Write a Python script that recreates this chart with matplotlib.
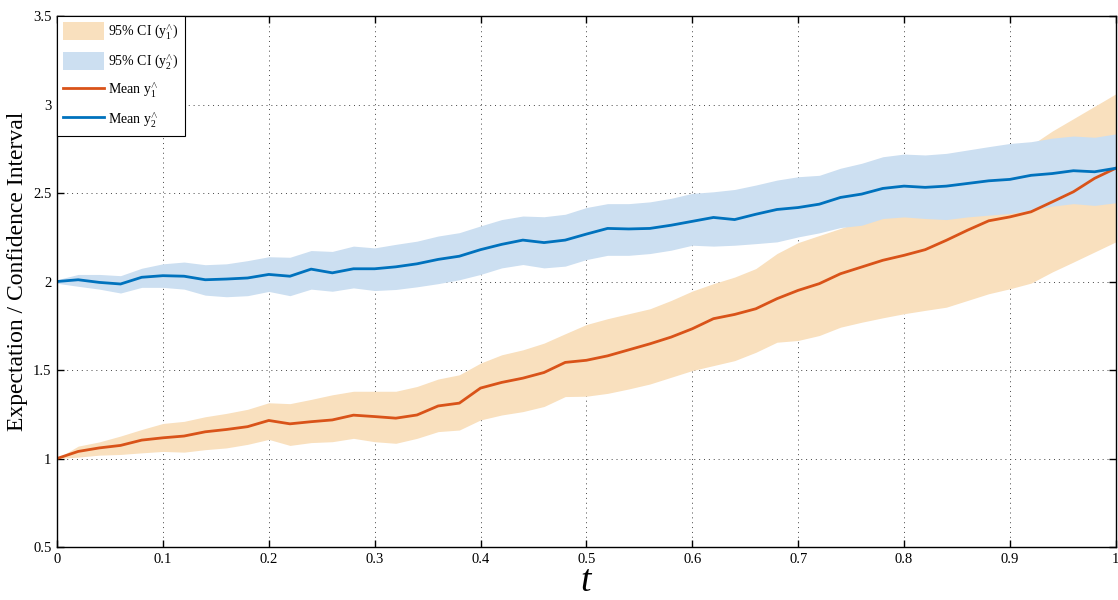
import matplotlib
matplotlib.use("Agg")
import matplotlib.pyplot as plt
from matplotlib.patches import Patch
from matplotlib.lines import Line2D

plt.rcParams['font.family'] = ['Liberation Serif', 'DejaVu Serif']
plt.rcParams['mathtext.fontset'] = 'custom'
plt.rcParams['mathtext.rm'] = 'Liberation Serif'
plt.rcParams['mathtext.it'] = 'Liberation Serif:italic'

# time grid
t = [0.00, 0.02, 0.04, 0.06, 0.08, 0.10, 0.12, 0.14, 0.16, 0.18,
     0.20, 0.22, 0.24, 0.26, 0.28, 0.30, 0.32, 0.34, 0.36, 0.38,
     0.40, 0.42, 0.44, 0.46, 0.48, 0.50, 0.52, 0.54, 0.56, 0.58,
     0.60, 0.62, 0.64, 0.66, 0.68, 0.70, 0.72, 0.74, 0.76, 0.78,
     0.80, 0.82, 0.84, 0.86, 0.88, 0.90, 0.92, 0.94, 0.96, 0.98, 1.00]

# y1 (orange)
mean_y1 = [1.0, 1.04, 1.06, 1.074, 1.104, 1.117, 1.127, 1.151, 1.164, 1.18,
           1.215, 1.196, 1.208, 1.218, 1.245, 1.237, 1.228, 1.246, 1.297, 1.313,
           1.398, 1.43, 1.454, 1.486, 1.543, 1.555, 1.58, 1.614, 1.648, 1.686,
           1.733, 1.79, 1.814, 1.846, 1.903, 1.95, 1.988, 2.044, 2.082, 2.12,
           2.148, 2.18, 2.233, 2.29, 2.343, 2.365, 2.394, 2.45, 2.507, 2.583, 2.64]
upper_y1 = [1.0, 1.07, 1.094, 1.127, 1.164, 1.198, 1.21, 1.236, 1.255, 1.278,
            1.315, 1.31, 1.334, 1.36, 1.38, 1.38, 1.38, 1.407, 1.449, 1.473,
            1.539, 1.586, 1.614, 1.652, 1.705, 1.757, 1.79, 1.818, 1.846, 1.893,
            1.946, 1.988, 2.025, 2.073, 2.158, 2.22, 2.26, 2.30, 2.34, 2.38,
            2.43, 2.48, 2.54, 2.61, 2.67, 2.72, 2.77, 2.85, 2.92, 2.99, 3.06]
lower_y1 = [1.0, 1.008, 1.019, 1.023, 1.032, 1.04, 1.036, 1.05, 1.06, 1.08,
            1.108, 1.074, 1.09, 1.095, 1.114, 1.095, 1.086, 1.114, 1.152, 1.161,
            1.218, 1.246, 1.265, 1.294, 1.35, 1.352, 1.368, 1.393, 1.421, 1.459,
            1.497, 1.525, 1.553, 1.60, 1.657, 1.667, 1.695, 1.742, 1.77, 1.795,
            1.818, 1.837, 1.855, 1.893, 1.931, 1.959, 1.991, 2.054, 2.11, 2.167, 2.224]

# y2 (blue)
mean_y2 = [2.0, 2.01, 1.995, 1.986, 2.024, 2.033, 2.03, 2.01, 2.014, 2.02,
           2.04, 2.03, 2.07, 2.049, 2.072, 2.072, 2.083, 2.10, 2.125, 2.143,
           2.18, 2.21, 2.234, 2.22, 2.234, 2.268, 2.30, 2.297, 2.30, 2.318,
           2.34, 2.362, 2.35, 2.38, 2.407, 2.418, 2.437, 2.475, 2.494, 2.526,
           2.539, 2.532, 2.539, 2.554, 2.569, 2.577, 2.60, 2.61, 2.626, 2.62, 2.64]
upper_y2 = [2.01, 2.04, 2.04, 2.033, 2.075, 2.10, 2.11, 2.095, 2.10, 2.118,
            2.14, 2.137, 2.175, 2.17, 2.2, 2.19, 2.21, 2.228, 2.257, 2.276,
            2.314, 2.35, 2.37, 2.366, 2.38, 2.418, 2.44, 2.44, 2.45, 2.47,
            2.498, 2.507, 2.52, 2.545, 2.573, 2.592, 2.60, 2.64, 2.668, 2.705,
            2.72, 2.715, 2.724, 2.743, 2.762, 2.78, 2.79, 2.81, 2.822, 2.815, 2.834]
lower_y2 = [1.99, 1.973, 1.957, 1.935, 1.967, 1.967, 1.957, 1.923, 1.914, 1.92,
            1.944, 1.92, 1.957, 1.945, 1.964, 1.949, 1.955, 1.97, 1.988, 2.01,
            2.04, 2.077, 2.096, 2.077, 2.087, 2.124, 2.148, 2.148, 2.158, 2.177,
            2.205, 2.2, 2.205, 2.214, 2.224, 2.252, 2.275, 2.305, 2.318, 2.356,
            2.365, 2.356, 2.35, 2.365, 2.375, 2.384, 2.403, 2.426, 2.44, 2.43, 2.445]

xticks = [0, 0.1, 0.2, 0.3, 0.4, 0.5, 0.6, 0.7, 0.8, 0.9, 1]
yticks = [0.5, 1, 1.5, 2, 2.5, 3, 3.5]
xticklabels = ['0', '0.1', '0.2', '0.3', '0.4', '0.5', '0.6', '0.7', '0.8', '0.9', '1']
yticklabels = ['0.5', '1', '1.5', '2', '2.5', '3', '3.5']

orange = '#D95319'
blue = '#0072BD'
orange_fill = '#F9E0BE'
blue_fill = '#CCDFF1'

fig = plt.figure(figsize=(11.18, 6.0), dpi=100)
ax = fig.add_axes([0.051, 0.0883, 0.947, 0.885])

ax.fill_between(t, lower_y1, upper_y1, color=orange_fill, linewidth=0)
ax.fill_between(t, lower_y2, upper_y2, color=blue_fill, linewidth=0)
ax.plot(t, mean_y1, color=orange, linewidth=2.0)
ax.plot(t, mean_y2, color=blue, linewidth=2.0)

ax.set_xlim(0, 1)
ax.set_ylim(0.5, 3.5)
ax.set_xticks(xticks)
ax.set_xticklabels(xticklabels)
ax.set_yticks(yticks)
ax.set_yticklabels(yticklabels)
ax.tick_params(direction='in', length=5, width=1.0, top=True, right=True,
               labelsize=10.5, pad=4)
for s in ax.spines.values():
    s.set_linewidth(1.0)
ax.grid(True, linestyle=(0, (1, 4)), color='#444444', linewidth=0.7)
ax.set_axisbelow(True)

ax.set_xlabel('$t$', fontsize=27, labelpad=-1)
ax.set_ylabel('Expectation / Confidence Interval', fontsize=17)
ax.yaxis.set_label_coords(-0.027, 0.52)

handles = [
    Patch(facecolor=orange_fill, edgecolor='none'),
    Patch(facecolor=blue_fill, edgecolor='none'),
    Line2D([0], [0], color=orange, linewidth=2.0),
    Line2D([0], [0], color=blue, linewidth=2.0),
]
labels = [r'95% CI (y$_{1}^{\wedge}$)', r'95% CI (y$_{2}^{\wedge}$)',
          r'Mean y$_{1}^{\wedge}$', r'Mean y$_{2}^{\wedge}$']
leg = ax.legend(handles, labels, loc='upper left', borderaxespad=0,
                fontsize=10, handlelength=2.9, handleheight=1.6,
                labelspacing=0.75, handletextpad=0.3, borderpad=0.45,
                fancybox=False, framealpha=1)
leg.get_frame().set_edgecolor('black')
leg.get_frame().set_linewidth(0.8)

fig.savefig('out.png', dpi=100)
